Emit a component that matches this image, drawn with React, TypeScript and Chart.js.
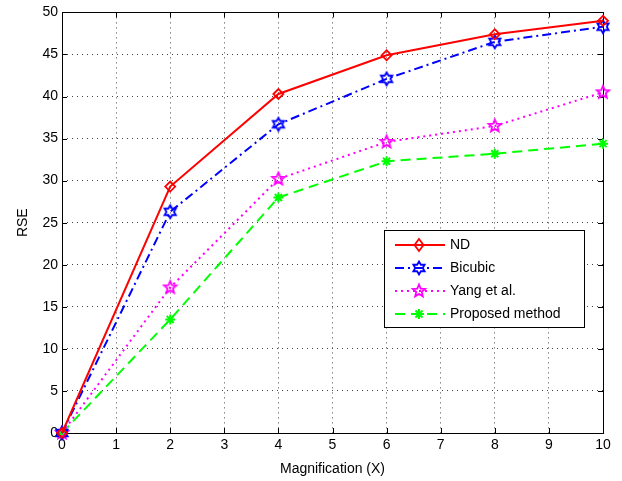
import React, { useEffect, useRef } from "react";
import { Chart, registerables } from "chart.js";

Chart.register(...registerables);

const xValues = [0, 2, 4, 6, 8, 10];
const ndValues = [0, 29.3, 40.3, 44.9, 47.4, 49.0];
const bicubicValues = [0, 26.3, 36.7, 42.1, 46.5, 48.3];
const yangValues = [0, 17.3, 30.2, 34.6, 36.5, 40.5];
const proposedValues = [0, 13.5, 28.0, 32.3, 33.2, 34.4];
const seriesNames = ["ND", "Bicubic", "Yang et al.", "Proposed method"];
const xTitle = "Magnification (X)";
const yTitle = "RSE";

const FONT = "'Liberation Sans', Arial, Helvetica, sans-serif";

function makeStar(points: number, color: string, outer: number, ratio: number): HTMLCanvasElement {
  const c = document.createElement("canvas");
  c.width = 18;
  c.height = 18;
  const ctx = c.getContext("2d")!;
  ctx.translate(9, 9);
  ctx.beginPath();
  for (let i = 0; i < points * 2; i++) {
    const r = i % 2 === 0 ? outer : outer * ratio;
    const a = -Math.PI / 2 + (i * Math.PI) / points;
    const x = r * Math.cos(a);
    const y = r * Math.sin(a);
    if (i === 0) ctx.moveTo(x, y);
    else ctx.lineTo(x, y);
  }
  ctx.closePath();
  ctx.strokeStyle = color;
  ctx.lineWidth = 1.8;
  ctx.stroke();
  return c;
}

export default function App() {
  const ref = useRef<HTMLCanvasElement | null>(null);

  useEffect(() => {
    document.body.style.margin = "0";
    const canvas = ref.current!;
    const hexa = makeStar(6, "#0000ff", 6.5, 0.58);
    const penta = makeStar(5, "#ff00ff", 6.5, 0.45);

    const styles = [
      { color: "#ff0000", dash: [] as number[], point: "rectRot" as any, radius: 5 },
      { color: "#0000ff", dash: [9, 4, 2, 4], point: hexa as any, radius: 6 },
      { color: "#ff00ff", dash: [2, 4], point: penta as any, radius: 6 },
      { color: "#00ff00", dash: [10, 6], point: "star" as any, radius: 5 },
    ];
    const values = [ndValues, bicubicValues, yangValues, proposedValues];

    const frame = {
      id: "frame",
      beforeDatasetsDraw(chart: any) {
        const { ctx, chartArea: a, scales } = chart;
        ctx.save();
        ctx.strokeStyle = "#000";
        ctx.lineWidth = 1;
        ctx.setLineDash([]);
        ctx.strokeRect(Math.round(a.left) + 0.5, Math.round(a.top) + 0.5, Math.round(a.right - a.left), Math.round(a.bottom - a.top));
        const tl = 5;
        ctx.beginPath();
        scales.x.ticks.forEach((t: any) => {
          const x = Math.round(scales.x.getPixelForValue(t.value)) + 0.5;
          ctx.moveTo(x, a.bottom);
          ctx.lineTo(x, a.bottom - tl);
          ctx.moveTo(x, a.top);
          ctx.lineTo(x, a.top + tl);
        });
        scales.y.ticks.forEach((t: any) => {
          const y = Math.round(scales.y.getPixelForValue(t.value)) + 0.5;
          ctx.moveTo(a.left, y);
          ctx.lineTo(a.left + tl, y);
          ctx.moveTo(a.right, y);
          ctx.lineTo(a.right - tl, y);
        });
        ctx.stroke();
        ctx.restore();
      },
    };

    const legendBox = {
      id: "legendBox",
      afterDraw(chart: any) {
        const { ctx } = chart;
        const bx = 384, by = 230, bw = 200, bh = 97;
        ctx.save();
        ctx.fillStyle = "#fff";
        ctx.fillRect(bx, by, bw, bh);
        ctx.strokeStyle = "#000";
        ctx.lineWidth = 1;
        ctx.setLineDash([]);
        ctx.strokeRect(bx + 0.5, by + 0.5, bw, bh);
        const rows = [245, 268, 291, 314];
        chart.data.datasets.forEach((ds: any, i: number) => {
          const y = rows[i];
          const s = styles[i];
          ctx.strokeStyle = s.color;
          ctx.lineWidth = 2;
          ctx.setLineDash(s.dash);
          ctx.beginPath();
          ctx.moveTo(395, y);
          ctx.lineTo(445, y);
          ctx.stroke();
          ctx.setLineDash([]);
          const mx = 419;
          if (typeof s.point !== "string") {
            ctx.drawImage(s.point, mx - s.point.width / 2, y - s.point.height / 2);
          } else if (s.point === "rectRot") {
            ctx.lineWidth = 1.8;
            ctx.beginPath();
            ctx.moveTo(mx, y - 6);
            ctx.lineTo(mx + 4.5, y);
            ctx.lineTo(mx, y + 6);
            ctx.lineTo(mx - 4.5, y);
            ctx.closePath();
            ctx.stroke();
          } else {
            ctx.lineWidth = 2;
            ctx.beginPath();
            const r = 5;
            ctx.moveTo(mx - r, y); ctx.lineTo(mx + r, y);
            ctx.moveTo(mx, y - r); ctx.lineTo(mx, y + r);
            const d = r * 0.707;
            ctx.moveTo(mx - d, y - d); ctx.lineTo(mx + d, y + d);
            ctx.moveTo(mx - d, y + d); ctx.lineTo(mx + d, y - d);
            ctx.stroke();
          }
          ctx.fillStyle = "#000";
          ctx.font = `14px ${FONT}`;
          ctx.textBaseline = "middle";
          ctx.textAlign = "left";
          ctx.fillText(ds.label, 450, y);
        });
        ctx.restore();
      },
    };

    const chart = new Chart(canvas, {
      type: "line",
      data: {
        datasets: values.map((vals, i) => ({
          label: seriesNames[i],
          data: xValues.map((x, j) => ({ x, y: vals[j] })),
          borderColor: styles[i].color,
          backgroundColor: "transparent",
          borderWidth: 2,
          borderDash: styles[i].dash,
          pointStyle: styles[i].point,
          pointRadius: styles[i].radius,
          pointBorderWidth: i === 3 ? 2 : 1.8,
          pointBorderColor: styles[i].color,
          pointBackgroundColor: "transparent",
          tension: 0,
          clip: false as any,
        })),
      },
      options: {
        animation: false,
        responsive: false,
        layout: { padding: { top: 12, right: 19, left: 0, bottom: 0 } },
        plugins: { legend: { display: false }, tooltip: { enabled: false } },
        scales: {
          x: {
            type: "linear",
            min: 0,
            max: 10,
            afterFit: (s: any) => { s.height = 48; },
            ticks: { stepSize: 1, color: "#000", padding: 4, font: { family: FONT, size: 14 } },
            grid: { drawTicks: false, color: "#444", lineWidth: 1 },
            border: { display: false, dash: [1, 4] },
            title: { display: true, text: xTitle, color: "#000", font: { family: FONT, size: 14 }, padding: { top: 0, bottom: 3 } },
          },
          y: {
            type: "linear",
            min: 0,
            max: 50,
            afterFit: (s: any) => { s.width = 62; },
            ticks: { stepSize: 5, color: "#000", padding: 4, font: { family: FONT, size: 14 } },
            grid: { drawTicks: false, color: "#444", lineWidth: 1 },
            border: { display: false, dash: [1, 4] },
            title: { display: true, text: yTitle, color: "#000", font: { family: FONT, size: 14 }, padding: { top: 15, bottom: 0 } },
          },
        },
      },
      plugins: [frame, legendBox],
    });
    return () => chart.destroy();
  }, []);

  return (
    <div style={{ position: "fixed", left: 0, top: 0, width: 622, height: 481, background: "#fff" }}>
      <canvas ref={ref} width={622} height={481} style={{ width: 622, height: 481 }} />
    </div>
  );
}
